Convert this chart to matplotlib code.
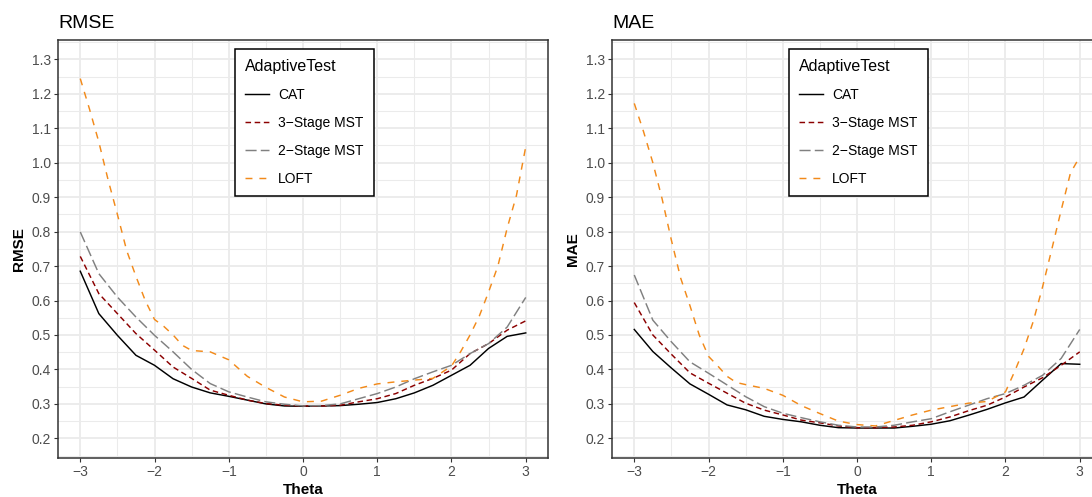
import numpy as np
import matplotlib
matplotlib.use("Agg")
import matplotlib.pyplot as plt
from matplotlib.ticker import MultipleLocator, FixedLocator

plt.rcParams['font.family'] = ['Liberation Sans', 'DejaVu Sans']
plt.rcParams['lines.scale_dashes'] = False

# ---------------- data ----------------
series_names = ["CAT", "3\u2212Stage MST", "2\u2212Stage MST", "LOFT"]

theta = [-3, -2.75, -2.5, -2.25, -2, -1.75, -1.5, -1.25, -1, -0.75, -0.5, -0.25,
         0, 0.25, 0.5, 0.75, 1, 1.25, 1.5, 1.75, 2, 2.25, 2.5, 2.75, 3]
theta_loft = [-3, -2.875, -2.75, -2.625, -2.5, -2.375, -2.25, -2.125, -2, -1.875,
              -1.75, -1.625, -1.5, -1.25, -1, -0.75, -0.5, -0.25, 0, 0.25, 0.5,
              0.75, 1, 1.25, 1.5, 1.75, 2, 2.125, 2.25, 2.375, 2.5, 2.625, 2.75,
              2.875, 3]

rmse_cat = [0.685, 0.562, 0.499, 0.441, 0.412, 0.373, 0.349, 0.332, 0.322, 0.311,
            0.300, 0.294, 0.293, 0.294, 0.295, 0.299, 0.304, 0.315, 0.332, 0.354,
            0.383, 0.412, 0.461, 0.496, 0.506]
rmse_3s = [0.728, 0.620, 0.562, 0.504, 0.456, 0.407, 0.374, 0.340, 0.325, 0.311,
           0.301, 0.296, 0.294, 0.294, 0.296, 0.306, 0.315, 0.330, 0.354, 0.374,
           0.398, 0.446, 0.475, 0.514, 0.541]
rmse_2s = [0.799, 0.678, 0.610, 0.552, 0.499, 0.451, 0.400, 0.359, 0.335, 0.320,
           0.306, 0.299, 0.294, 0.295, 0.300, 0.315, 0.330, 0.349, 0.373, 0.393,
           0.412, 0.446, 0.475, 0.523, 0.609]
rmse_loft = [1.244, 1.155, 1.060, 0.950, 0.850, 0.745, 0.670, 0.600, 0.545, 0.525,
             0.500, 0.470, 0.455, 0.451, 0.428, 0.380, 0.348, 0.320, 0.306, 0.308,
             0.325, 0.345, 0.358, 0.364, 0.369, 0.374, 0.410, 0.452, 0.500, 0.555,
             0.625, 0.700, 0.810, 0.905, 1.046]

mae_cat = [0.516, 0.452, 0.404, 0.358, 0.328, 0.297, 0.283, 0.264, 0.255, 0.248,
           0.238, 0.231, 0.230, 0.230, 0.230, 0.235, 0.241, 0.251, 0.267, 0.284,
           0.303, 0.320, 0.369, 0.417, 0.415]
mae_3s = [0.594, 0.500, 0.444, 0.390, 0.360, 0.331, 0.302, 0.282, 0.268, 0.253,
          0.245, 0.236, 0.231, 0.231, 0.233, 0.238, 0.248, 0.262, 0.280, 0.296,
          0.320, 0.349, 0.376, 0.412, 0.451]
mae_2s = [0.674, 0.543, 0.480, 0.422, 0.389, 0.355, 0.321, 0.292, 0.273, 0.260,
          0.248, 0.238, 0.233, 0.233, 0.238, 0.248, 0.257, 0.277, 0.296, 0.315,
          0.330, 0.354, 0.383, 0.432, 0.516]
mae_loft = [1.172, 1.090, 1.000, 0.895, 0.775, 0.665, 0.585, 0.500, 0.438, 0.410,
            0.380, 0.362, 0.356, 0.345, 0.325, 0.295, 0.272, 0.250, 0.240, 0.236,
            0.252, 0.268, 0.282, 0.292, 0.302, 0.307, 0.335, 0.395, 0.460, 0.540,
            0.640, 0.750, 0.862, 0.970, 1.017]

x_ticks = [-3, -2, -1, 0, 1, 2, 3]
y_ticks = [0.2, 0.3, 0.4, 0.5, 0.6, 0.7, 0.8, 0.9, 1.0, 1.1, 1.2, 1.3]

# ---------------- styles ----------------
colors = ["#000000", "#8B0000", "#808080", "#F28A1A"]
dashes = [None, (4.0, 2.6), (8.0, 3.0), (5.0, 5.0)]

W, H = 1092, 497
fig = plt.figure(figsize=(W / 100, H / 100), dpi=100)

def px_axes(l, t, r, b):
    return fig.add_axes([l / W, 1 - b / H, (r - l) / W, (b - t) / H])

panels = [
    ("RMSE", px_axes(58, 40, 548, 458), [rmse_cat, rmse_3s, rmse_2s, rmse_loft]),
    ("MAE", px_axes(612, 40, 1102, 458), [mae_cat, mae_3s, mae_2s, mae_loft]),
]

for title, ax, ys in panels:
    ax.set_facecolor("white")
    handles = []
    for i, (name, y) in enumerate(zip(series_names, ys)):
        xs = theta_loft if i == 3 else theta
        ln, = ax.plot(xs, y, color=colors[i], lw=1.05, label=name,
                      solid_joinstyle='miter')
        if dashes[i] is not None:
            ln.set_dashes(dashes[i])
        handles.append(ln)
    ax.set_xlim(-3.3, 3.3)
    ax.set_ylim(0.143, 1.356)
    ax.xaxis.set_major_locator(FixedLocator(x_ticks))
    ax.yaxis.set_major_locator(FixedLocator(y_ticks))
    ax.xaxis.set_minor_locator(MultipleLocator(0.5))
    ax.yaxis.set_minor_locator(MultipleLocator(0.05))
    ax.set_yticklabels([f"{v:.1f}" for v in y_ticks])
    ax.grid(which='major', color='#EBEBEB', lw=1.3, zorder=0)
    ax.grid(which='minor', color='#EBEBEB', lw=0.75, zorder=0)
    ax.set_axisbelow(True)
    ax.tick_params(which='major', length=3, width=0.8, color='#333333',
                   labelsize=10, labelcolor='#4D4D4D', pad=2)
    ax.tick_params(which='minor', length=0)
    for s in ax.spines.values():
        s.set_color('#333333')
        s.set_linewidth(1.1)
    ax.set_xlabel("Theta", fontsize=11, fontweight='bold', labelpad=3)
    ax.set_ylabel(title, fontsize=11, fontweight='bold', labelpad=4)
    ax.set_title(title, loc='left', fontsize=14, pad=9)
    leg = ax.legend(handles=handles, title="AdaptiveTest", loc='upper left',
                    bbox_to_anchor=(0.361, 0.978), borderaxespad=0,
                    fontsize=10, title_fontsize=11.5, frameon=True,
                    fancybox=False, edgecolor='black', framealpha=1,
                    handlelength=1.7, handletextpad=0.7, labelspacing=1.0,
                    borderpad=0.72, alignment='left')
    leg.get_frame().set_linewidth(1.1)

fig.savefig("out.png", dpi=100)
